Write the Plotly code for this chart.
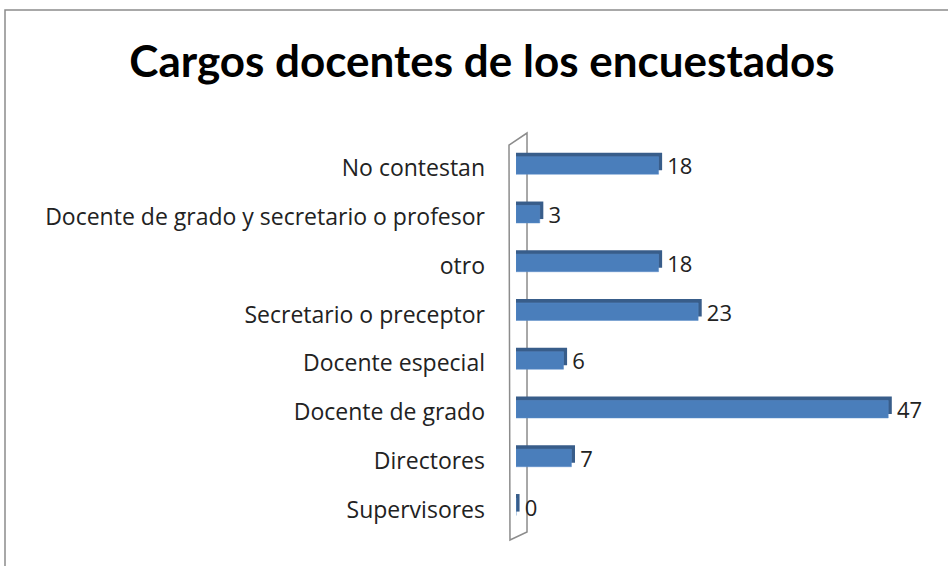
import plotly.graph_objects as go

categories = ["Supervisores", "Directores", "Docente de grado", "Docente especial",
              "Secretario o preceptor", "otro",
              "Docente de grado y secretario o profesor", "No contestan"]
values = [0, 7, 47, 6, 23, 18, 3, 18]
title_text = "Cargos docentes de los encuestados"

W, H = 948, 566
ml, mr, mt, mb = 516, 36, 144, 32
depth = 0.45  # visual 3D depth in value units

fig = go.Figure()
# back/top dark face for 3D look
fig.add_trace(go.Bar(
    y=categories, x=[v + depth for v in values], orientation="h",
    marker=dict(color="#385D8A", line=dict(width=0)),
    width=0.36, offset=-0.04, hoverinfo="skip", showlegend=False,
))
# front face
fig.add_trace(go.Bar(
    y=categories, x=values, orientation="h",
    marker=dict(color="#4A7EBB", line=dict(color="#5B8DC9", width=0.5)),
    width=0.36, offset=-0.12,
    text=["\u00a0" + str(v) for v in values], textposition="outside",
    constraintext="none",
    textfont=dict(family="Open Sans, sans-serif", size=22, color="#222222"),
    cliponaxis=False, showlegend=False,
))

pw = W - ml - mr
ph = H - mt - mb
def px(xp, yp):
    return ((xp - ml) / pw, (H - mb - yp) / ph)

# wall outline (decorative)
pts = [(509, 145), (527, 133), (527, 532), (510, 540), (509, 145)]
path = ""
for i, (a, b) in enumerate(pts):
    xp, yp = px(a, b)
    path += ("M" if i == 0 else "L") + f"{xp:.4f},{yp:.4f} "
fig.add_shape(type="path", path=path + "Z", xref="paper", yref="paper",
              line=dict(color="#8C8C8C", width=1.5), layer="below")

# outer chart border
fig.add_shape(type="rect", xref="paper", yref="paper",
              x0=(5 - ml) / pw, x1=(960 - ml) / pw,
              y0=(H - mb - 580) / ph, y1=(H - mb - 10) / ph,
              line=dict(color="#8C8C8C", width=1.5), layer="below")

fig.update_layout(
    width=W, height=H,
    margin=dict(l=ml, r=mr, t=mt, b=mb),
    barmode="overlay",
    paper_bgcolor="white", plot_bgcolor="white",
    title=dict(text=title_text, x=482 / W, xanchor="center", y=1 - 62 / H, yanchor="middle",
               font=dict(family="Lato, sans-serif", size=44, color="black", weight="bold")),
    xaxis=dict(range=[0, 50], visible=False),
    yaxis=dict(categoryorder="array", categoryarray=categories, range=[-0.5, 7.5],
               showgrid=False, zeroline=False, showline=False, ticks="",
               ticklabelstandoff=30,
               tickfont=dict(family="Open Sans, sans-serif", size=23, color="#222222")),
)

fig.write_html("out.html", config={"displayModeBar": False},
               post_script="document.body.style.margin='0';")
